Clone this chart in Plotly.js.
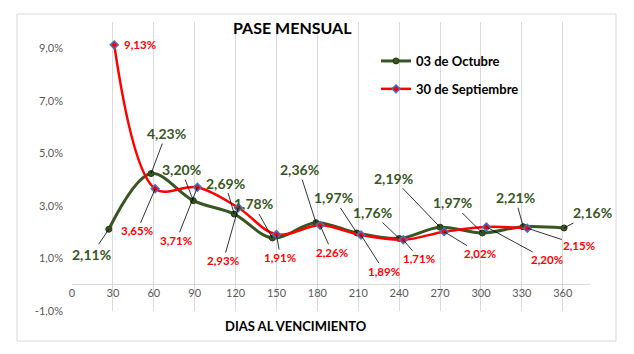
<!DOCTYPE html>
<html><head><meta charset="utf-8">
<script src="https://cdn.plot.ly/plotly-3.0.1.min.js"></script>
<style>html,body{margin:0;padding:0;background:#fff}#c{width:634px;height:354px}</style>
</head><body><div id="c"></div>
<script>
// Data
const daysOct = [27, 58, 89, 119, 147, 179, 209, 240, 270, 301, 331, 361];
const valsOct = [2.11, 4.23, 3.20, 2.69, 1.78, 2.36, 1.97, 1.76, 2.19, 1.97, 2.21, 2.16];
const daysSep = [31, 61, 92, 122, 150, 182, 212, 243, 273, 304, 334];
const valsSep = [9.13, 3.65, 3.71, 2.93, 1.91, 2.26, 1.89, 1.71, 2.02, 2.20, 2.15];
const xTicks = [0, 30, 60, 90, 120, 150, 180, 210, 240, 270, 300, 330, 360];
const yTicks = [-1, 1, 3, 5, 7, 9];
const nameOct = '03 de Octubre';
const nameSep = '30 de Septiembre';
const chartTitle = 'PASE MENSUAL';
const xTitle = 'DIAS AL VENCIMIENTO';

// label placement (pixel offsets of label from its point)
const offOct = [[-17,25],[15,-40],[-12,-31],[-9,-31],[-19,-34],[-17,-53],[-23,-35],[-27,-26],[-47,-49],[-30,-30],[-8,-29],[28,-15]];
const offSep = [[26,0],[-18,42],[-21,53],[-15,53],[4,23],[12,27],[23,36],[16,19],[36,22],[61,33],[52,17]];

const GREEN = '#375623', RED = '#ff0000', FONT = 'Lato, "Open Sans", sans-serif';
const fmt = v => v.toFixed(2).replace('.', ',') + '%';

const traces = [
  {x: daysOct, y: valsOct, name: nameOct, type: 'scatter', mode: 'lines+markers',
   legendgroup: 'a',
   line: {color: GREEN, width: 3, shape: 'spline', smoothing: 1},
   marker: {symbol: 'circle', size: 6, color: GREEN, line: {color: '#203a12', width: 1}}},
  {x: daysSep, y: valsSep, name: nameSep, type: 'scatter', mode: 'lines+markers',
   legendgroup: 'b',
   line: {color: RED, width: 2.5, shape: 'spline', smoothing: 1},
   marker: {symbol: 'diamond', size: 6, color: RED, line: {color: '#4472c4', width: 1.5}}}
];

const ann = [];
daysOct.forEach((d, i) => ann.push({
  x: d, y: valsOct[i], xref: 'x', yref: 'y', text: '<b>' + fmt(valsOct[i]) + '</b>',
  showarrow: true, ax: offOct[i][0], ay: offOct[i][1], arrowhead: 0, arrowwidth: 0.8,
  arrowcolor: '#000', standoff: 0, font: {family: FONT, size: 14, color: GREEN}
}));
daysSep.forEach((d, i) => ann.push({
  x: d, y: valsSep[i], xref: 'x', yref: 'y', text: '<b>' + fmt(valsSep[i]) + '</b>',
  showarrow: true, ax: offSep[i][0], ay: offSep[i][1], arrowhead: 0, arrowwidth: 0.8,
  arrowcolor: i === 0 ? 'rgba(0,0,0,0)' : '#000', standoff: 0, font: {family: FONT, size: 11.5, color: RED}
}));
ann.push({text: '<b>' + chartTitle + '</b>', xref: 'paper', yref: 'paper', x: (292-72)/518, y: (311-28)/289,
  xanchor: 'center', yanchor: 'middle',
  showarrow: false, font: {family: FONT, size: 16, color: '#000'}});
ann.push({text: '<b>' + xTitle + '</b>', xref: 'paper', yref: 'paper', x: (296-72)/518, y: (311-326)/289,
  xanchor: 'center', yanchor: 'middle',
  showarrow: false, font: {family: FONT, size: 13, color: '#000'}});

const layout = {
  width: 634, height: 354,
  margin: {l: 72, r: 44, t: 22, b: 43, pad: 0},
  paper_bgcolor: '#fff', plot_bgcolor: '#fff',
  separators: ',.',
  font: {family: FONT, color: '#595959', size: 11},
  showlegend: true,
  legend: {x: (376-72)/518, y: (311-46)/289, xanchor: 'left', yanchor: 'top',
    traceorder: 'grouped', tracegroupgap: 8, bgcolor: 'rgba(0,0,0,0)',
    font: {family: FONT, size: 13, color: '#000', weight: 'bold'}},
  xaxis: {range: [0, 380], tickvals: xTicks, ticktext: xTicks.map(String), showgrid: true,
    gridcolor: '#d9d9d9', gridwidth: 1, zeroline: false, showline: false, ticks: '',
    anchor: 'free', position: 1/11, tickfont: {family: FONT, size: 11, color: '#595959'}},
  yaxis: {range: [-1, 10], tickvals: yTicks, ticktext: yTicks.map(v => v.toFixed(1).replace('.', ',') + '%'),
    showgrid: false, zeroline: true, zerolinecolor: '#d9d9d9', zerolinewidth: 1,
    showline: false, ticks: '', ticklabelstandoff: 8, tickfont: {family: FONT, size: 11, color: '#595959'}},
  shapes: [{type: 'rect', xref: 'paper', yref: 'paper',
    x0: (17-72)/518, x1: (616-72)/518, y0: (311-341)/289, y1: (311-14)/289,
    line: {color: '#d9d9d9', width: 1}, fillcolor: 'rgba(0,0,0,0)'}],
  annotations: ann
};
Plotly.newPlot('c', traces, layout, {staticPlot: true});
</script></body></html>
